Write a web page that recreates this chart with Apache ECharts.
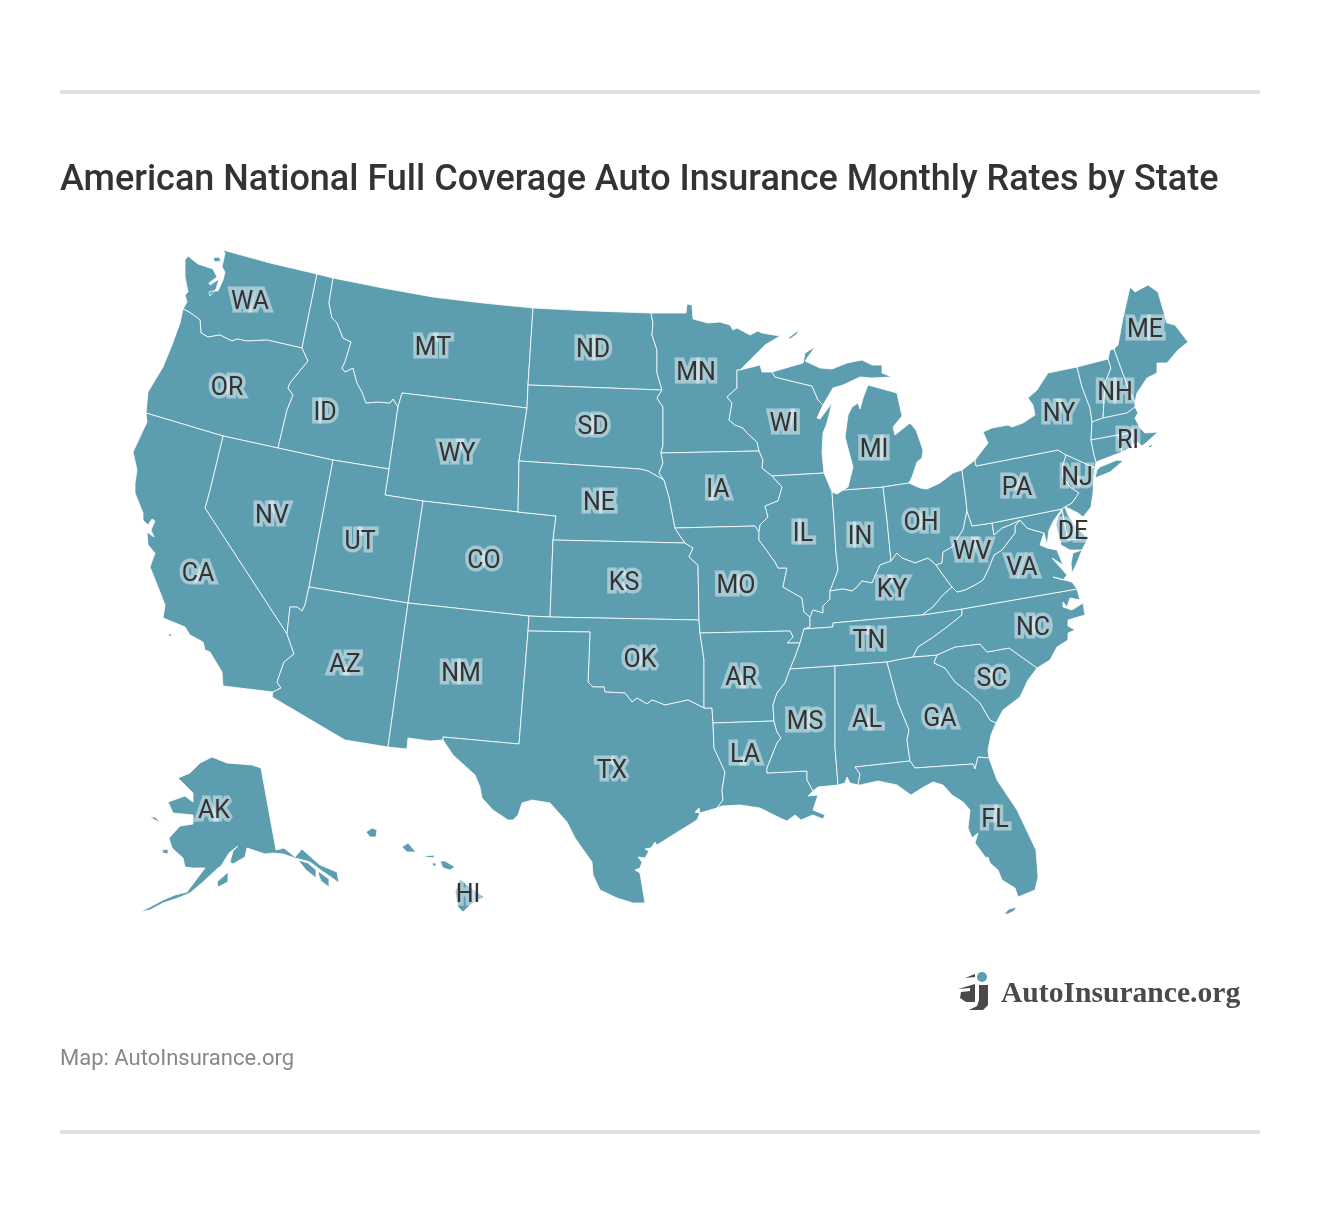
<!DOCTYPE html>
<html>
<head>
<meta charset="utf-8">
<title>American National Full Coverage Auto Insurance Monthly Rates by State</title>
<script src="https://cdn.jsdelivr.net/npm/echarts@6/dist/echarts.min.js"></script>
<style>
  html, body { margin: 0; padding: 0; background: #fff; }
  #map { width: 1320px; height: 1214px; }
</style>
</head>
<body>
<div id="map"></div>
<script>
// the 46 state codes that carry a label, plus the four the picture leaves blank
const labelledStates = ['WA','OR','CA','NV','ID','MT','WY','UT','AZ','CO','NM','ND','SD','NE','KS','OK','TX','MN','IA','MO','AR','LA','WI','IL','MI','IN','OH','KY','TN','MS','AL','GA','FL','SC','NC','VA','WV','PA','NY','ME','NH','RI','NJ','DE','AK','HI'];
const blankStates = ['MD','VT','MA','CT'];

const titleText = 'American National Full Coverage Auto Insurance Monthly Rates by State';
const sourceText = 'Map: AutoInsurance.org';
const logoText = 'AutoInsurance.org';

// where each label sits, in map units
const labelSpots = {
  WA:[250,299],OR:[227,385],CA:[198,571],NV:[272,513],ID:[325,410],MT:[433,345],WY:[457,451],UT:[360,539],
  AZ:[345,662],CO:[484,558],NM:[461,671],ND:[593,347],SD:[593,424],NE:[599,500],KS:[624,580],OK:[640,657],
  TX:[612,768],MN:[696,370],IA:[718,487],MO:[736,583],AR:[741,675],LA:[745,752],WI:[784,421],IL:[803,531],
  MI:[874,447],IN:[860,534],OH:[921,520],KY:[892,587],TN:[869,638],MS:[805,719],AL:[867,717],GA:[940,716],
  FL:[995,817],SC:[992,676],NC:[1033,625],VA:[1022,565],WV:[972,549],PA:[1017,485],NY:[1059,411],ME:[1145,327],
  NH:[1115,390],RI:[1128,438],NJ:[1077,475],DE:[1073,529],AK:[214,808],HI:[468,892]
};

// state borders, one flat x,y list per shared edge
const edges = {
  nWa:[223,250,270,263,317,274],
  waId:[317,274,302,348],
  waOr:[302,348,267,340,247,341,237,339,232,341,220,335,208,337,201,333,200,320,195,316,189,312,183,309],
  cWa:[183,309,187,302,185,295,188,292,185,277,185,260,188,256,198,264,213,269,217,277,209,283,210,285,219,279,216,289,210,296,209,292,212,291,218,291,223,280,225,272,222,267,225,253,223,250],
  cOr:[183,309,180,323,172,345,163,367,148,392,146,413],
  orCa:[146,413,223,436],
  orNv:[223,436,278,448],
  orId:[278,448,287,410,293,395,288,388,290,383,308,361,302,348],
  nId:[317,274,333,278],
  idMt:[333,278,329,303,332,318,337,323,343,338,351,342,345,362,342,368,345,372,353,368,357,383,362,392,366,403,378,402,390,403,393,399,398,407],
  idWy:[398,407,389,469],
  idUt:[333,460,389,469],
  nvId:[278,448,333,460],
  nMt:[333,278,383,288,433,297,483,303,533,308],
  mtNd:[533,308,528,385],
  mtSd:[528,385,527,408],
  wyMt:[402,393,527,408],
  mtWyW:[402,393,398,407],
  wySd:[527,408,519,461],
  wyNe:[519,461,518,512],
  coWy:[423,501,518,512],
  utWy:[385,495,423,501],
  utWyW:[385,495,389,469],
  nvUt:[333,460,309,587],
  nvAz:[309,587,305,605,302,611,297,607,290,607,287,634],
  caNv:[223,436,210,490,205,508,287,634],
  cCa:[146,413,147,422,133,452,137,470,135,483,135,493,143,513,143,520,148,525,152,519,155,521,151,530,154,537,147,532,148,545,155,553,150,567,158,587,165,605,163,618,173,622,185,627,190,635,203,642,205,650,210,652,222,672,223,686,273,692],
  caAz:[273,692,281,688,277,682,284,662,294,654,287,634],
  utCo:[423,501,408,603],
  azUt:[309,587,408,603],
  azNm:[408,603,388,747],
  sAz:[388,747,345,740,272,697,273,692],
  coNe:[518,512,556,516,553,540],
  coKs:[553,540,550,617],
  coOk:[550,617,529,616],
  coNm:[529,616,408,603],
  nmOk:[529,616,528,631],
  nmTx:[528,631,519,744,443,737,443,740],
  sNm:[443,740,430,741,408,738,407,749,388,747],
  nNd:[533,308,592,311,651,313],
  ndMn:[651,313,653,323,652,335,657,350,657,373,662,390],
  ndSd:[528,385,662,390],
  sdMn:[662,390,657,398,663,407,663,445,661,453],
  sdIa:[661,453,663,463,659,473,664,480],
  neSd:[519,461,640,469,648,471,664,480],
  neIa:[664,480,669,497,675,528],
  neMo:[675,528,680,536,685,543],
  ksNe:[553,540,685,543],
  ksMo:[685,543,693,548,689,557,698,565,699,620],
  ksOk:[699,620,550,617],
  okMo:[699,620,700,633],
  okAr:[700,633,704,660,704,708],
  okTx:[704,708,688,700,665,705,652,700,647,704,637,698,632,702,625,693,605,692,604,687,593,687,588,682],
  okTxN:[588,682,590,632,528,631],
  arTx:[704,708,712,708,713,723],
  txLa:[713,723,714,748,725,772,722,790,723,800,717,808],
  cTx:[443,740,445,743,453,755,475,775,480,787,482,798,493,810,508,820,513,820,518,815,522,803,532,800,550,803,567,822,575,838,592,862,593,875,600,890,617,898,633,903,645,903,642,885,640,873,635,870,640,868,642,862,638,857,645,858,649,851,645,849,651,848,655,842,657,845,668,838,697,820,700,813,695,812,699,808,700,813,717,808],
  nMn:[651,313,686,313,687,304,692,305,693,319,708,323,720,322,730,325,733,330,737,328,750,335,758,331,762,333,780,336,765,345,753,357,740,370],
  mnWi:[740,370,737,370,737,388,727,397,732,403,729,420,735,425,743,428,747,433,757,442,759,451],
  iaMn:[661,453,759,451],
  iaWi:[759,451,763,460,762,468,772,476],
  iaIl:[772,476,782,487,778,501,765,506,768,517,760,525,759,532],
  iaMo:[675,528,755,526,759,532],
  moIl:[759,532,759,540,775,562,778,568,787,568,783,587,802,598,804,612,810,617],
  moKy:[810,617,810,627,804,629],
  moTn:[804,629,800,643],
  moAr:[800,643,787,643,793,637,790,631,700,633],
  arTn:[800,643,795,657,790,669],
  arMs:[790,669,785,683,777,693,773,705,774,721],
  arLa:[774,721,713,723],
  laMs:[774,721,777,732,781,738,777,743,767,768,767,773,807,771,807,780,813,791],
  cLa:[813,791,808,796,818,795,813,810,825,815,823,819,813,815,801,820,795,815,787,821,780,818,760,808,740,805,722,806,717,808],
  cWiN:[740,370,760,365,762,372,772,372],
  wiMi:[772,372,775,377,795,382,812,386,818,400,823,405],
  cWi:[823,405,817,418,820,419,832,403,827,423,823,433,822,453,824,473],
  wiIl:[824,473,772,476],
  cIl:[824,473,832,492],
  ilIn:[832,492,834,520,836,553,838,570,830,591],
  ilKy:[830,591,830,599,823,606,823,613,813,610,810,617],
  cIn:[832,492,837,494,843,490],
  inMi:[843,490,883,487],
  inOh:[883,487,887,520,891,561],
  kyIn:[830,591,843,589,852,591,857,587,862,581,872,583,880,565,891,561],
  cMi:[843,490,848,487,853,467,845,437,848,415,852,407,858,403,860,409,863,398,868,385,897,393,900,407,902,416,893,427,895,435,910,423,916,430,923,450,922,458,917,462,912,477,909,483],
  miOh:[909,483,883,487],
  cUp:[772,372,803,363,805,353,815,347,805,361,820,368,832,369,847,363,862,360,872,365,882,365,882,373,892,377,872,378,860,377,843,385,833,388,823,405],
  cOh:[909,483,920,488,927,489,940,483,953,473,962,470],
  ohPa:[962,470,966,500,967,511],
  ohWv:[967,511,963,530,952,547,943,552,942,563,936,565],
  ohKy:[936,565,928,558,915,563,902,558,897,553,891,561],
  kyWv:[936,565,943,575,952,587],
  kyVa:[952,587,943,595,933,607,922,615],
  kyTn:[922,615,887,618,833,623,833,627,804,629],
  tnVa:[922,615,962,609],
  tnNc:[962,609,962,615,947,627,932,638,918,647,913,657],
  tnGa:[913,657,887,662],
  tnAl:[887,662,835,666],
  tnMs:[835,666,790,669],
  msAl:[835,666,835,747,838,785],
  cMs:[838,785,818,787,813,791],
  alGa:[887,662,898,703,909,730,907,740,910,761],
  alFl:[910,761,855,767,860,774,858,785],
  cAl:[858,785,850,783,847,777,845,783,838,785],
  gaNc:[913,657,937,655],
  gaSc:[937,655,934,663,945,668,955,682,968,692,980,703,990,720,996,723],
  cGa:[996,723,991,735,988,750,989,758],
  gaFl:[989,758,978,757,975,769,973,764,915,768,910,761],
  cFl:[989,758,997,780,1017,810,1036,850,1038,877,1035,890,1018,897,1015,888,1002,880,998,870,990,863,988,857,986,858,975,843,978,833,972,838,968,828,970,810,963,802,952,795,943,785,933,782,922,788,911,795,897,785,878,781,860,785,858,785],
  ncSc:[937,655,955,647,980,644,987,652,1009,648,1037,668],
  cSc:[1037,668,1028,680,1020,697,1003,710,996,723],
  ncVa:[962,609,1077,589],
  cNc:[1077,589,1080,600,1070,598,1067,607,1063,602,1063,607,1072,610,1083,603,1085,615,1068,620,1068,626,1075,630,1068,633,1068,640,1057,647,1050,660,1037,668],
  vaWv:[952,587,957,592,965,590,975,585,983,580,988,570,994,555,1002,550,1015,533,1015,526,1020,520],
  vaMd:[1020,520,1027,528,1033,530,1044,533],
  cVa:[1044,533,1040,545,1047,548,1057,550,1063,565,1052,558,1067,575,1063,580,1053,577,1072,582,1077,589],
  wvPa:[967,511,972,526,992,523],
  wvMd:[992,523,994,535,1002,528,1012,524,1020,520],
  mdPa:[992,523,1062,509],
  cMdW:[1062,509,1054,520,1049,530,1047,545,1044,533],
  cPa:[962,470,975,460,976,466],
  paNy:[976,466,1058,450],
  paNy2:[1058,450,1066,455],
  paNj:[1066,455,1063,465,1063,477,1070,487,1079,493,1072,503,1065,507],
  paDe:[1065,507,1062,509],
  cNy:[976,466,975,460,988,443,983,432,992,428,1008,425,1012,427,1023,423,1035,415,1033,405,1028,398,1037,390,1048,373,1077,367],
  nyVt:[1077,367,1082,387,1090,408,1092,422],
  nyMa:[1092,422,1091,440],
  nyCt:[1091,440,1094,455,1096,462],
  nyCtE:[1096,462,1095,468],
  njNy:[1095,468,1066,455],
  cNj:[1065,507,1070,509,1078,513,1083,517,1091,507,1093,493,1094,475,1095,468],
  cDe:[1065,507,1068,515,1074,524,1082,533,1088,538],
  deMd:[1088,538,1068,540,1062,509],
  vtTop:[1077,367,1108,359],
  vtNh:[1108,359,1111,368,1105,383,1103,418],
  vtMa:[1103,418,1092,422],
  nhTop:[1108,359,1110,350,1114,349],
  nhMe:[1114,349,1130,393,1135,402],
  cNh:[1135,402,1135,407],
  nhMa:[1135,407,1127,413,1103,418],
  cMe:[1114,349,1118,345,1123,318,1130,287,1135,292,1148,285,1158,292,1167,323,1175,325,1188,342,1178,350,1167,363,1157,363,1157,373,1147,378,1137,393,1135,402],
  cMa:[1135,407,1138,413,1135,418,1140,428,1145,433,1158,432,1147,442,1142,446,1136,441,1133,445],
  maRi:[1133,445,1130,433,1118,435],
  maCt:[1118,435,1091,440],
  cRi:[1133,445,1130,448,1122,452],
  riCt:[1122,452,1118,435],
  cCt:[1122,452,1096,462]
};

// islands and other separate pieces
const pieces = {
  sanJuan:[213,258,219,257,221,261,215,262],
  isleRoyale:[788,338,799,330,797,334,790,339],
  catalina:[168,634,172,634,170,637],
  vaShore:[1082,550,1073,553,1071,563,1072,573,1076,565],
  mdEast:[1062,511,1058,517,1056,525,1058,533,1061,545,1070,550,1082,550,1088,538,1068,540],
  longIsland:[1095,478,1110,472,1123,461,1117,460,1100,467,1097,470],
  nantucket:[1148,446,1154,444,1150,448],
  keys:[1004,914,1009,909,1017,907,1014,911,1008,914],
  akMain:[212,757,227,763,252,765,261,768,276,850,284,848,295,857,302,849,312,858,320,865,337,872,339,883,331,877,322,871,310,862,303,860,295,858,283,854,273,853,265,854,253,850,247,848,245,857,233,864,230,862,233,851,238,846,229,853,221,866,218,868,203,882,190,893,178,898,163,903,150,910,140,912,150,907,163,900,175,895,187,892,205,868,193,868,185,867,183,858,172,848,169,838,180,826,193,824,193,815,173,813,168,802,185,796,193,802,193,793,178,778,190,773,200,763],
  akStLawrence:[150,817,155,817,161,823,155,820],
  akNunivak:[162,850,168,849,168,854,163,853],
  akKodiak:[217,882,228,872,228,882,218,887],
  akSeA:[298,860,308,863,316,870,316,878,306,870],
  akSeB:[318,871,329,879,329,887,321,881,319,876],
  hiKauai:[366,832,372,828,377,830,376,837,370,837],
  hiOahu:[402,847,408,843,416,852,407,852],
  hiMolokai:[425,856,434,855,434,858,425,857],
  hiLanai:[432,863,436,863,436,866,433,866],
  hiMaui:[440,861,445,861,455,867,450,870,443,868],
  hiBig:[460,879,470,887,484,897,470,905,463,912,458,907,455,892]
};

// each state as a walk round its edges, "-" means walk that edge backwards
const outlines = {
  WA:[['nWa','waId','waOr','cWa'],'sanJuan'],
  OR:[['cOr','orCa','orNv','orId','waOr']],
  ID:[['nId','idMt','idWy','-idUt','-nvId','orId','-waId']],
  MT:[['nMt','mtNd','mtSd','-wyMt','mtWyW','-idMt']],
  WY:[['wyMt','wySd','wyNe','-coWy','-utWy','utWyW','-idWy','-mtWyW']],
  NV:[['orNv','nvId','nvUt','nvAz','-caNv']],
  CA:[['cCa','caAz','-caNv','-orCa'],'catalina'],
  UT:[['idUt','-utWyW','utWy','utCo','-azUt','-nvUt']],
  AZ:[['azUt','azNm','sAz','caAz','-nvAz']],
  CO:[['coWy','coNe','coKs','coOk','coNm','-utCo']],
  NM:[['-coNm','nmOk','nmTx','sNm','-azNm']],
  ND:[['nNd','ndMn','-ndSd','-mtNd']],
  SD:[['ndSd','sdMn','sdIa','-neSd','-wySd','-mtSd']],
  NE:[['neSd','neIa','neMo','-ksNe','-coNe','-wyNe']],
  KS:[['ksNe','ksMo','ksOk','-coKs']],
  OK:[['-coOk','-ksOk','okMo','okAr','okTx','okTxN','-nmOk']],
  TX:[['-okTxN','-okTx','arTx','txLa','-cTx','-nmTx']],
  MN:[['nMn','mnWi','-iaMn','-sdMn','-ndMn'],'isleRoyale'],
  IA:[['iaMn','iaWi','iaIl','-iaMo','-neIa','-sdIa']],
  MO:[['iaMo','moIl','moKy','moTn','moAr','-okMo','-ksMo','-neMo']],
  AR:[['-moAr','arTn','arMs','arLa','-arTx','-okAr']],
  LA:[['-arLa','laMs','cLa','-txLa']],
  WI:[['cWiN','wiMi','cWi','wiIl','-iaWi','-mnWi']],
  IL:[['-wiIl','cIl','ilIn','ilKy','-moIl','-iaIl']],
  IN:[['cIn','inMi','inOh','-kyIn','-ilIn']],
  MI:[['cMi','miOh','-inMi'],['cUp','-wiMi']],
  OH:[['-miOh','cOh','ohPa','ohWv','ohKy','-inOh']],
  KY:[['kyIn','-ohKy','kyWv','kyVa','kyTn','-moKy','-ilKy']],
  TN:[['-kyTn','tnVa','tnNc','tnGa','tnAl','tnMs','-arTn','-moTn']],
  MS:[['-tnMs','msAl','cMs','-laMs','-arMs']],
  AL:[['-tnAl','alGa','alFl','cAl','-msAl']],
  GA:[['-tnGa','gaNc','gaSc','cGa','gaFl','-alGa']],
  FL:[['-alFl','-gaFl','cFl'],'keys'],
  SC:[['ncSc','cSc','-gaSc']],
  NC:[['-tnNc','ncVa','cNc','-ncSc','-gaNc']],
  VA:[['-kyVa','vaWv','vaMd','cVa','-ncVa','-tnVa'],'vaShore'],
  WV:[['-ohWv','wvPa','wvMd','-vaWv','-kyWv']],
  MD:[['mdPa','cMdW','-vaMd','-wvMd'],'mdEast'],
  PA:[['cPa','paNy','paNy2','paNj','paDe','-mdPa','-wvPa','-ohPa']],
  NY:[['cNy','nyVt','nyMa','nyCt','nyCtE','njNy','-paNy2','-paNy'],'longIsland'],
  NJ:[['njNy','paNj','cNj']],
  DE:[['-paDe','cDe','deMd']],
  VT:[['vtTop','vtNh','vtMa','-nyVt']],
  NH:[['nhTop','nhMe','cNh','nhMa','-vtNh']],
  ME:[['cMe','-nhMe']],
  MA:[['-nhMa','cMa','maRi','maCt','-nyMa','-vtMa'],'nantucket'],
  RI:[['-maRi','cRi','riCt']],
  CT:[['-maCt','-riCt','cCt','-nyCt']],
  AK:['akMain','akStLawrence','akNunivak','akKodiak','akSeA','akSeB'],
  HI:['hiKauai','hiOahu','hiMolokai','hiLanai','hiMaui','hiBig']
};

// y runs upward in geojson, so picture y is stored negated
function toPairs(flat) {
  const out = [];
  for (let i = 0; i < flat.length; i += 2) out.push([flat[i], -flat[i + 1]]);
  return out;
}

function walk(names) {
  let ring = [];
  names.forEach(function (n) {
    const back = n[0] === '-';
    const pts = toPairs(edges[back ? n.slice(1) : n]);
    if (back) pts.reverse();
    ring = ring.concat(ring.length ? pts.slice(1) : pts);
  });
  if (ring[0][0] !== ring[ring.length - 1][0] || ring[0][1] !== ring[ring.length - 1][1]) ring.push(ring[0]);
  return ring;
}

function closed(name) {
  const pts = toPairs(pieces[name]);
  pts.push(pts[0]);
  return pts;
}

const features = Object.keys(outlines).map(function (code) {
  const polys = outlines[code].map(function (p) {
    return [typeof p === 'string' ? closed(p) : walk(p)];
  });
  const spot = labelSpots[code];
  const props = { name: code };
  if (spot) props.cp = [spot[0], -spot[1]];
  return { type: 'Feature', properties: props, geometry: { type: 'MultiPolygon', coordinates: polys } };
});

let minX = Infinity, maxX = -Infinity, minY = Infinity, maxY = -Infinity;
features.forEach(function (f) {
  f.geometry.coordinates.forEach(function (poly) {
    poly[0].forEach(function (pt) {
      minX = Math.min(minX, pt[0]); maxX = Math.max(maxX, pt[0]);
      minY = Math.min(minY, -pt[1]); maxY = Math.max(maxY, -pt[1]);
    });
  });
});

echarts.registerMap('usa', { type: 'FeatureCollection', features: features });

var myChart = echarts.init(document.getElementById('map'));

var option = {
  backgroundColor: '#fff',
  animation: false,
  title: [
    {
      text: titleText,
      left: 60,
      top: 163,
      padding: 0,
      textStyle: { fontFamily: 'Roboto', fontWeight: 500, fontSize: 36, color: '#333' }
    },
    {
      text: sourceText,
      left: 60,
      top: 1048,
      padding: 0,
      textStyle: { fontFamily: 'Roboto', fontWeight: 400, fontSize: 22, color: '#888' }
    }
  ],
  series: [
    {
      type: 'map',
      map: 'usa',
      roam: false,
      silent: true,
      aspectScale: 1,
      left: minX,
      top: minY,
      width: maxX - minX,
      height: maxY - minY,
      selectedMode: false,
      emphasis: { disabled: true },
      itemStyle: { areaColor: '#5c9db0', borderColor: '#fff', borderWidth: 0.8 },
      label: {
        show: true,
        fontFamily: 'Roboto',
        fontSize: 25,
        color: '#333',
        offset: [0, 4],
        textBorderColor: 'rgba(255,255,255,0.45)',
        textBorderWidth: 7
      },
      data: labelledStates.map(function (c) { return { name: c }; })
        .concat(blankStates.map(function (c) { return { name: c, label: { show: false } }; }))
    }
  ],
  graphic: [
    { type: 'rect', shape: { x: 60, y: 90, width: 1200, height: 4 }, style: { fill: '#e0e0e0' } },
    { type: 'rect', shape: { x: 60, y: 1130, width: 1200, height: 4 }, style: { fill: '#e0e0e0' } },
    { type: 'circle', shape: { cx: 982, cy: 977, r: 5 }, style: { fill: '#5c9db0' } },
    { type: 'polygon', shape: { points: [[965, 978], [975, 974], [975, 977]] }, style: { fill: '#4a4a4a' } },
    { type: 'polygon', shape: { points: [[958, 989], [975, 984], [975, 1002], [966, 1002], [960, 998], [961, 992], [970, 991], [970, 988]] }, style: { fill: '#4a4a4a' } },
    { type: 'polygon', shape: { points: [[979, 985], [988, 985], [988, 1005], [983, 1010], [969, 1010], [977, 1006], [979, 1000]] }, style: { fill: '#4a4a4a' } },
    {
      type: 'text',
      left: 1001,
      top: 979,
      style: { text: logoText, font: 'bold 29.6px "Liberation Serif"', fill: '#4a4a4a' }
    }
  ]
};

myChart.setOption(option);
</script>
</body>
</html>
